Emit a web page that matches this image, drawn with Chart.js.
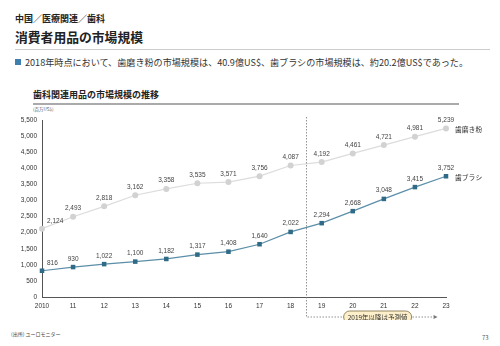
<!DOCTYPE html>
<html>
<head>
<meta charset="utf-8">
<script src="https://cdn.jsdelivr.net/npm/chart.js@4/dist/chart.umd.min.js"></script>
<style>
  body { margin: 0; background: #fff; font-family: "Noto Sans CJK JP", "Noto Sans", sans-serif; color: #222; }
  #page { position: relative; width: 500px; height: 346px; overflow: hidden; }
  .t { position: absolute; white-space: nowrap; }
  #wrap { position: absolute; left: 0; top: 105px; width: 500px; height: 215px; }
</style>
</head>
<body>
<div id="page">
  <div class="t" style="left:15px;top:12px;font-size:9px;font-weight:bold;">中国／医療関連／歯科</div>
  <div class="t" style="left:15px;top:27px;font-size:12.8px;font-weight:bold;">消費者用品の市場規模</div>
  <div style="position:absolute;left:15px;top:49px;width:475px;height:1px;background:#ccc;"></div>
  <div style="position:absolute;left:15px;top:59px;width:6px;height:6px;background:#3f7fb0;"></div>
  <div class="t" style="left:25px;top:55px;font-size:9.1px;color:#333;">2018年時点において、歯磨き粉の市場規模は、40.9億US$、歯ブラシの市場規模は、約20.2億US$であった。</div>
  <div class="t" style="left:33px;top:88px;font-size:9px;font-weight:bold;">歯科関連用品の市場規模の推移</div>
  <div style="position:absolute;left:33px;top:103px;width:426px;height:2px;background:#aaa;"></div>
  <div class="t" style="left:33px;top:106px;font-size:4.5px;color:#555;">(百万US$)</div>
  <div id="wrap"><canvas id="myChart"></canvas></div>
  <div class="t" style="left:11px;top:330px;font-size:5px;color:#444;">(出所) ユーロモニター</div>
  <div class="t" style="left:482px;top:333px;font-size:6px;color:#555;">73</div>
</div>
<script>
// Values
const years = ["2010", "11", "12", "13", "14", "15", "16", "17", "18", "19", "20", "21", "22", "23"];
const toothpaste = [2124, 2493, 2818, 3162, 3358, 3535, 3571, 3756, 4087, 4192, 4461, 4721, 4981, 5239];
const toothbrush = [816, 930, 1022, 1100, 1182, 1317, 1408, 1640, 2022, 2294, 2668, 3048, 3415, 3752];
const seriesNames = ["歯磨き粉", "歯ブラシ"];
const forecastNote = "2019年以降は予測値";

// labels above each point, plus series names at the right end
const pointLabels = {
    id: 'pointLabels',
    afterDatasetsDraw(chart) {
        const ctx = chart.ctx;
        ctx.save();
        chart.data.datasets.forEach(function(ds, di) {
            const meta = chart.getDatasetMeta(di);
            ctx.font = '6.5px "Liberation Sans", Arial, sans-serif';
            ctx.fillStyle = '#444';
            ctx.textBaseline = 'bottom';
            meta.data.forEach(function(pt, i) {
                const txt = ds.data[i].toLocaleString('en-US');
                if (i === 0) {
                    ctx.textAlign = 'left';
                    ctx.fillText(txt, pt.x + 5, pt.y - 4);
                } else {
                    ctx.textAlign = 'center';
                    ctx.fillText(txt, pt.x, pt.y - 5);
                }
            });
            const last = meta.data[meta.data.length - 1];
            ctx.textAlign = 'left';
            ctx.textBaseline = 'middle';
            ctx.font = '6.8px "Noto Sans CJK JP", sans-serif';
            ctx.fillStyle = '#333';
            ctx.fillText(seriesNames[di], last.x + 9, last.y + 1);
        });
        ctx.restore();
    }
};

// dashed divider between actual and forecast years
const forecastMark = {
    id: 'forecastMark',
    afterDraw(chart) {
        const ctx = chart.ctx;
        const xs = chart.scales.x;
        const x0 = Math.round(xs.getPixelForValue(8.5)) + 0.5;
        const top = chart.chartArea.top - 3;
        const yb = 212;
        const xEnd = xs.getPixelForValue(12.6);
        ctx.save();
        ctx.strokeStyle = '#777';
        ctx.lineWidth = 0.8;
        ctx.setLineDash([1.5, 1.5]);
        ctx.beginPath();
        ctx.moveTo(x0, top);
        ctx.lineTo(x0, yb);
        ctx.lineTo(xEnd, yb);
        ctx.stroke();
        ctx.setLineDash([]);
        ctx.fillStyle = '#777';
        ctx.beginPath();
        ctx.moveTo(xEnd + 4, yb);
        ctx.lineTo(xEnd, yb - 2);
        ctx.lineTo(xEnd, yb + 2);
        ctx.closePath();
        ctx.fill();
        // note box
        const cx = (xs.getPixelForValue(10.5) + xs.getPixelForValue(11.1)) / 2;
        const w = 68, h = 12;
        ctx.beginPath();
        ctx.roundRect(cx - w / 2, yb - h / 2, w, h, 6);
        ctx.fillStyle = '#fcefc9';
        ctx.fill();
        ctx.strokeStyle = '#7d6d45';
        ctx.lineWidth = 0.8;
        ctx.stroke();
        ctx.fillStyle = '#333';
        ctx.font = '6.5px "Noto Sans CJK JP", sans-serif';
        ctx.textAlign = 'center';
        ctx.textBaseline = 'middle';
        ctx.fillText(forecastNote, cx, yb + 0.5);
        ctx.restore();
    }
};

var ctx = document.getElementById('myChart');
var myChart = new Chart(ctx, {
    type: 'line',
    data: {
        labels: years,
        datasets: [
            {
                data: toothpaste,
                borderColor: '#dcdcdc',
                borderWidth: 1.2,
                pointStyle: 'circle',
                pointRadius: 3,
                pointBackgroundColor: '#d2d2d2',
                pointBorderWidth: 0,
                tension: 0
            },
            {
                data: toothbrush,
                borderColor: '#5b8ea8',
                borderWidth: 1.2,
                pointStyle: 'rect',
                pointRadius: 3.2,
                pointBackgroundColor: '#2f6a86',
                pointBorderWidth: 0,
                tension: 0
            }
        ]
    },
    options: {
        responsive: true,
        maintainAspectRatio: false,
        animation: false,
        layout: { padding: { left: 0, right: 54, top: 15, bottom: 0 } },
        plugins: { legend: { display: false }, tooltip: { enabled: false } },
        scales: {
            x: {
                offset: false,
                grid: { display: false, drawTicks: true, tickLength: 3, color: '#555' },
                border: { color: '#555', width: 1 },
                ticks: { color: '#333', font: { size: 6.5, family: '"Liberation Sans", Arial, sans-serif' }, padding: 2, maxRotation: 0, autoSkip: false },
                afterFit(scale) { scale.height = 23; }
            },
            y: {
                min: 0,
                max: 5500,
                grid: { display: false, drawTicks: true, tickLength: 3, color: '#555' },
                border: { color: '#555', width: 1 },
                ticks: {
                    stepSize: 500,
                    color: '#333',
                    font: { size: 6.5, family: '"Liberation Sans", Arial, sans-serif' },
                    padding: 2,
                    callback: function(v) { return v.toLocaleString('en-US'); }
                },
                afterFit(scale) { scale.width = 42; }
            }
        }
    },
    plugins: [pointLabels, forecastMark]
});
</script>
</body>
</html>
